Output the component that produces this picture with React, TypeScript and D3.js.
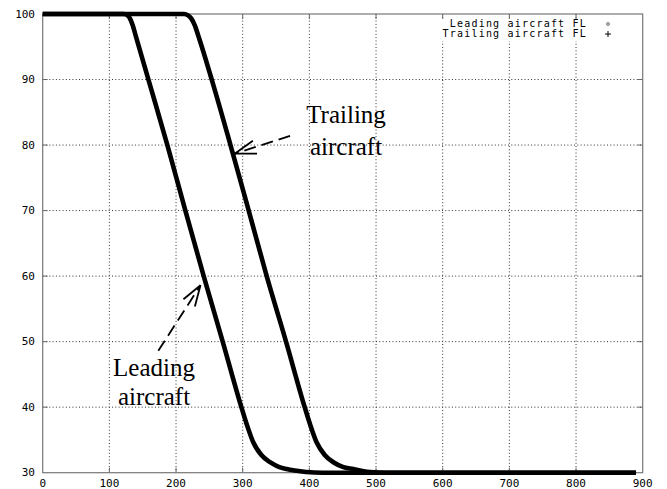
import React from "react";
import * as d3 from "d3";

const W = 667;
const H = 489;

const xTicks = [0, 100, 200, 300, 400, 500, 600, 700, 800, 900];
const yTicks = [30, 40, 50, 60, 70, 80, 90, 100];

const leadingX = [0, 122, 127, 131, 135, 140, 160, 187, 214, 241.5, 270, 298, 306, 316, 328, 341, 354, 366, 380, 395, 420, 890];
const leadingY = [100, 100, 99.8, 99.3, 98.3, 96.5, 89.5, 80, 70, 60, 50, 40, 37.4, 34.6, 32.7, 31.6, 30.9, 30.55, 30.3, 30.1, 30, 30];

const trailingX = [0, 212, 218, 223, 228, 234, 255, 281.7, 309, 336, 365, 393, 401, 411, 423, 436, 450, 466, 478, 491, 515, 890];
const trailingY = [100, 100, 99.8, 99.3, 98.3, 96.5, 89.5, 80, 70, 60, 50, 40, 37.4, 34.6, 32.7, 31.6, 30.9, 30.55, 30.3, 30.1, 30, 30];

const legendLabels = ["Leading aircraft FL", "Trailing aircraft FL"];

// annotations in data coordinates: [tailX, tailY, tipX, tipY]
const trailingArrow = [371, 81.4, 288.5, 78.7];
const leadingArrow = [173.4, 48.6, 236.7, 58.6];
const trailingLabel = { x: 455, y: 83.4, lines: ["Trailing", "aircraft"] };
const leadingLabel = { x: 167, y: 44.8, lines: ["Leading", "aircraft"] };

export default function App() {
  const left = 42.7, right = 642.7, top = 14, bottom = 472.7;
  const x = d3.scaleLinear().domain([0, 900]).range([left, right]);
  const y = d3.scaleLinear().domain([30, 100]).range([bottom, top]);

  const line = d3
    .line<[number, number]>()
    .x((d) => x(d[0]))
    .y((d) => y(d[1]))
    .curve(d3.curveMonotoneX);

  const lead: [number, number][] = leadingX.map((v, i) => [v, leadingY[i]]);
  const trail: [number, number][] = trailingX.map((v, i) => [v, trailingY[i]]);

  const mono = "'DejaVu Sans Mono', monospace";
  const serif = "'Liberation Serif', 'Times New Roman', serif";

  const arrow = (a: number[], key: string) => {
    const x0 = x(a[0]), y0 = y(a[1]), x1 = x(a[2]), y1 = y(a[3]);
    const ang = Math.atan2(y0 - y1, x0 - x1);
    const len = 22;
    const spread = (18 * Math.PI) / 180;
    const h1 = [x1 + len * Math.cos(ang + spread), y1 + len * Math.sin(ang + spread)];
    const h2 = [x1 + len * Math.cos(ang - spread), y1 + len * Math.sin(ang - spread)];
    return (
      <g key={key} stroke="#000" strokeWidth={1.8} fill="none">
        <line x1={x0} y1={y0} x2={x1} y2={y1} strokeDasharray="12 6" />
        <line x1={x1} y1={y1} x2={h1[0]} y2={h1[1]} />
        <line x1={x1} y1={y1} x2={h2[0]} y2={h2[1]} />
      </g>
    );
  };

  const innerX = xTicks.slice(1, -1);
  const innerY = yTicks.slice(1, -1);

  return (
    <svg
      width={W}
      height={H}
      style={{ position: "absolute", left: 0, top: 0, background: "#fff" }}
    >
      <rect x={0} y={0} width={W} height={H} fill="#fff" />
      {/* grid */}
      <g stroke="#333" strokeWidth={1} strokeDasharray="1 2.3">
        {innerX.map((t) => (
          <line key={"gx" + t} x1={x(t)} x2={x(t)} y1={top} y2={bottom} />
        ))}
        {innerY.map((t) => (
          <line key={"gy" + t} x1={left} x2={right} y1={y(t)} y2={y(t)} />
        ))}
      </g>
      {/* legend background */}
      <rect x={440} y={18} width={200} height={23} fill="#fff" />
      {/* ticks */}
      <g stroke="#666" strokeWidth={1}>
        {innerX.map((t) => (
          <g key={"tx" + t}>
            <line x1={x(t)} x2={x(t)} y1={bottom} y2={bottom - 5} />
            <line x1={x(t)} x2={x(t)} y1={top} y2={top + 5} />
          </g>
        ))}
        {innerY.map((t) => (
          <g key={"ty" + t}>
            <line x1={left} x2={left + 5} y1={y(t)} y2={y(t)} />
            <line x1={right} x2={right - 5} y1={y(t)} y2={y(t)} />
          </g>
        ))}
      </g>
      {/* border */}
      <rect x={left} y={top} width={right - left} height={bottom - top} fill="none" stroke="#777" strokeWidth={1.2} />
      {/* tick labels */}
      <g fontFamily={mono} fontSize={11} fill="#000">
        {yTicks.map((t) => (
          <text key={"ly" + t} x={35} y={y(t)} textAnchor="end" dominantBaseline="central">
            {t}
          </text>
        ))}
        {xTicks.map((t) => (
          <text key={"lx" + t} x={x(t)} y={483.5} textAnchor="middle" dominantBaseline="central">
            {t}
          </text>
        ))}
      </g>
      {/* legend */}
      <g fontFamily={mono} fontSize={10} letterSpacing={1.2} fill="#000">
        {legendLabels.map((l, i) => (
          <text key={l} x={587} y={23.5 + i * 10} textAnchor="end" dominantBaseline="central">
            {l}
          </text>
        ))}
      </g>
      <path d="M608,21.5 L610.5,24 L608,26.5 L605.5,24 Z" fill="#999" />
      <g stroke="#000" strokeWidth={1}>
        <line x1={605} x2={611} y1={34} y2={34} />
        <line x1={608} x2={608} y1={31} y2={37} />
      </g>
      {/* curves */}
      <path d={line(trail) || ""} fill="none" stroke="#000" strokeWidth={4.6} strokeLinejoin="round" />
      <path d={line(lead) || ""} fill="none" stroke="#000" strokeWidth={4.6} strokeLinejoin="round" />
      {/* annotations */}
      {arrow(trailingArrow, "ta")}
      {arrow(leadingArrow, "la")}
      <g fontFamily={serif} fontSize={25} fill="#000" textAnchor="middle">
        {trailingLabel.lines.map((s, i) => (
          <text key={s} x={x(trailingLabel.x)} y={y(trailingLabel.y) + i * 32.5}>
            {s}
          </text>
        ))}
        {leadingLabel.lines.map((s, i) => (
          <text key={s + "l"} x={x(leadingLabel.x)} y={y(leadingLabel.y) + i * 29}>
            {s}
          </text>
        ))}
      </g>
    </svg>
  );
}
